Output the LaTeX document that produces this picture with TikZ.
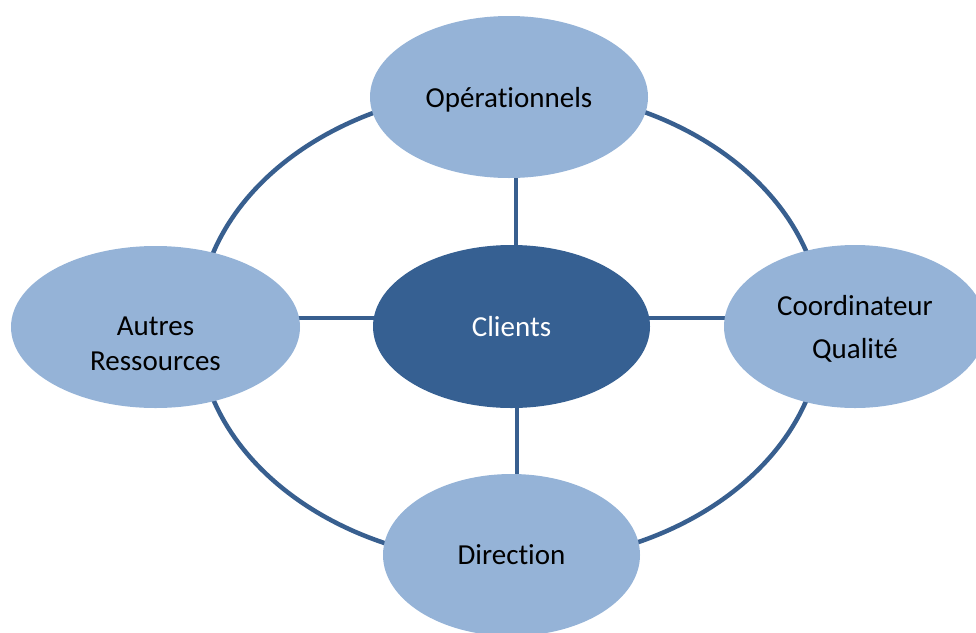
\documentclass[tikz,border=0pt]{standalone}
\usepackage{fontspec}
\setmainfont{Carlito}[Ligatures={NoCommon}]
\usetikzlibrary{shapes.geometric,backgrounds}
\definecolor{lightblue}{HTML}{95B3D7}
\definecolor{darkblue}{HTML}{366092}
\definecolor{linkblue}{HTML}{385F8F}
\begin{document}
\begin{tikzpicture}[x=1pt,y=-1pt,
  bubble/.style={ellipse,fill=lightblue,draw=none,inner sep=0pt,align=center,
    text depth=0pt,font=\fontsize{29}{35}\selectfont,text=black},
  hub/.style={ellipse,fill=darkblue,draw=none,inner sep=0pt,align=center,
    text depth=0pt,font=\fontsize{29}{35}\selectfont,text=white},
  link/.style={draw=linkblue,line width=4.5pt}]
\clip (0,0) rectangle (976,632);
\useasboundingbox (0,0) rectangle (976,632);
\node[bubble,minimum width=278pt,minimum height=162pt] (top) at (509,97) {Opérationnels};
\node[hub,minimum width=277pt,minimum height=163pt] (cl) at (511.5,326.5) {Clients};
\node[bubble,minimum width=289pt,minimum height=162pt] (left) at (155.5,327) {\raisebox{-12pt}{\parbox{200pt}{\centering Autres\\Ressources}}};
\node[bubble,minimum width=262pt,minimum height=163pt] (right) at (855,326.5) {Coordinateur\\[8pt]Qualité};
\node[bubble,minimum width=257pt,minimum height=162pt] (bot) at (511.5,555) {Direction};
\coordinate (rc) at (510,326);
\begin{pgfonlayer}{background}
\draw[link] (rc) ellipse [x radius=312pt, y radius=237pt];
\draw[link] ([xshift=7pt]top.center) -- ([xshift=4.5pt]cl.center);
\draw[link] ([xshift=5.5pt]cl.center) -- ([xshift=5.5pt]bot.center);
\draw[link] ([yshift=9pt]left.center) -- ([yshift=8.5pt]cl.center);
\draw[link] ([yshift=8.5pt]cl.center) -- ([yshift=8.5pt]right.center);
\end{pgfonlayer}
\end{tikzpicture}
\end{document}
